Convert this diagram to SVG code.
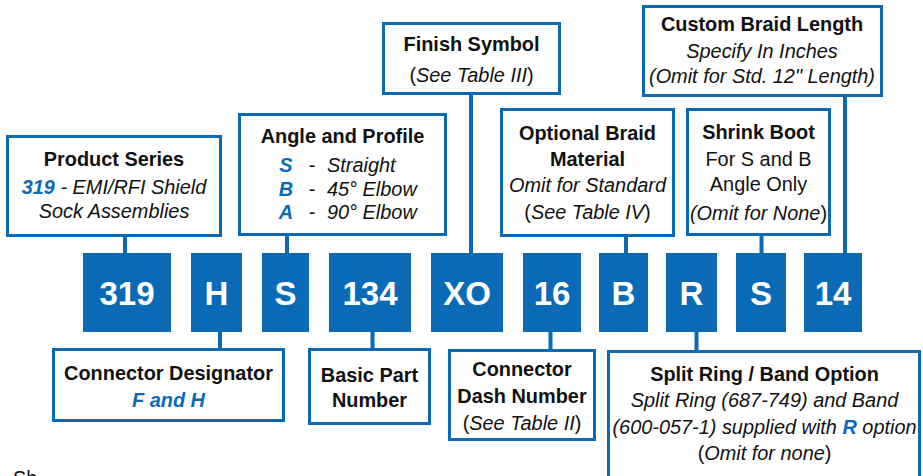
<svg xmlns="http://www.w3.org/2000/svg" width="923" height="476" viewBox="0 0 923 476">
<style>
text{font-family:"Liberation Sans",Arial,Helvetica,sans-serif;font-size:19.9px;fill:#111;}
.t{font-weight:bold;text-anchor:middle;}
.c{text-anchor:middle;}
.i{font-style:italic;}
.bl{fill:#0a6ab5;font-weight:bold;font-style:italic;}
.box{fill:#fff;stroke:#0a6ab5;stroke-width:3;}
.code{fill:#0a6ab5;}
.ct{fill:#fff;font-weight:bold;font-size:33px;text-anchor:middle;}
.ln{stroke:#0a6ab5;stroke-width:4;fill:none;}
</style>
<g id="connectors">
<line class="ln" x1="125" y1="236" x2="125" y2="254"/>
<line class="ln" x1="287" y1="235" x2="287" y2="254"/>
<line class="ln" x1="471" y1="94" x2="471" y2="254"/>
<line class="ln" x1="626" y1="236" x2="626" y2="254"/>
<line class="ln" x1="761.5" y1="235" x2="761.5" y2="254"/>
<line class="ln" x1="845" y1="96" x2="845" y2="254"/>
<line class="ln" x1="220" y1="331" x2="220" y2="350"/>
<line class="ln" x1="372.5" y1="331" x2="372.5" y2="350"/>
<line class="ln" x1="550.5" y1="331" x2="550.5" y2="351"/>
<line class="ln" x1="696.5" y1="331" x2="696.5" y2="352"/>
</g>
<g id="code-319"><rect class="code" x="83" y="253" width="88" height="79"/><text class="ct" x="127" y="305">319</text></g>
<g id="code-H"><rect class="code" x="191" y="253" width="51" height="79"/><text class="ct" x="216.5" y="305">H</text></g>
<g id="code-S1"><rect class="code" x="262" y="253" width="47" height="79"/><text class="ct" x="285.5" y="305">S</text></g>
<g id="code-134"><rect class="code" x="329" y="253" width="82" height="79"/><text class="ct" x="370" y="305">134</text></g>
<g id="code-XO"><rect class="code" x="431" y="253" width="72" height="79"/><text class="ct" x="467" y="305">XO</text></g>
<g id="code-16"><rect class="code" x="523" y="253" width="58" height="79"/><text class="ct" x="552" y="305">16</text></g>
<g id="code-B"><rect class="code" x="599" y="253" width="49" height="79"/><text class="ct" x="623.5" y="305">B</text></g>
<g id="code-R"><rect class="code" x="666" y="253" width="51" height="79"/><text class="ct" x="691.5" y="305">R</text></g>
<g id="code-S2"><rect class="code" x="736" y="253" width="50" height="79"/><text class="ct" x="761" y="305">S</text></g>
<g id="code-14"><rect class="code" x="804" y="253" width="58" height="79"/><text class="ct" x="833" y="305">14</text></g>

<g id="product-series">
<rect class="box" x="7.5" y="136.5" width="213" height="99"/>
<text class="t" x="114" y="166">Product Series</text>
<text class="c i" x="114" y="194"><tspan class="bl">319</tspan> - EMI/RFI Shield</text>
<text class="c i" x="114" y="218">Sock Assemblies</text>
</g>
<g id="angle-profile">
<rect class="box" x="239.5" y="114.5" width="206" height="120"/>
<text class="t" x="342.5" y="143">Angle and Profile</text>
<text class="bl c" x="286" y="172">S</text><text class="c" x="312" y="172">-</text><text class="i" x="327" y="172">Straight</text>
<text class="bl c" x="286" y="195.5">B</text><text class="c" x="312" y="195.5">-</text><text class="i" x="327" y="195.5">45° Elbow</text>
<text class="bl c" x="286" y="219">A</text><text class="c" x="312" y="219">-</text><text class="i" x="327" y="219">90° Elbow</text>
</g>
<g id="finish-symbol">
<rect class="box" x="383.5" y="23.5" width="176" height="70"/>
<text class="t" x="471.5" y="51">Finish Symbol</text>
<text class="c" x="471.5" y="82">(<tspan class="i">See Table III</tspan>)</text>
</g>
<g id="optional-braid">
<rect class="box" x="501.5" y="109.5" width="172" height="126"/>
<text class="t" x="587.5" y="139.5">Optional Braid</text>
<text class="t" x="587.5" y="165.5">Material</text>
<text class="c i" x="587.5" y="192">Omit for Standard</text>
<text class="c" x="587.5" y="218.5">(<tspan class="i">See Table IV</tspan>)</text>
</g>
<g id="custom-braid-length">
<rect class="box" x="643.5" y="6.5" width="238" height="89"/>
<text class="t" x="762" y="31">Custom Braid Length</text>
<text class="c i" x="762" y="57.5">Specify In Inches</text>
<text class="c i" x="762" y="83">(Omit for Std. 12" Length)</text>
</g>
<g id="shrink-boot">
<rect class="box" x="687.5" y="109.5" width="142" height="125"/>
<text class="t" x="758.5" y="138.5">Shrink Boot</text>
<text class="c" x="758.5" y="166">For S and B</text>
<text class="c" x="758.5" y="191">Angle Only</text>
<text class="c" x="758.5" y="220"><tspan class="i">(Omit for None</tspan>)</text>
</g>
<g id="connector-designator">
<rect class="box" x="53.5" y="349.5" width="230" height="71"/>
<text class="t" x="168.5" y="379.5">Connector Designator</text>
<text class="bl c" x="168.5" y="407">F and H</text>
</g>
<g id="basic-part-number">
<rect class="box" x="309.5" y="349.5" width="120" height="74"/>
<text class="t" x="369.5" y="382">Basic Part</text>
<text class="t" x="369.5" y="406.5">Number</text>
</g>
<g id="connector-dash-number">
<rect class="box" x="449.5" y="350.5" width="145" height="89"/>
<text class="t" x="522" y="375.5">Connector</text>
<text class="t" x="522" y="403">Dash Number</text>
<text class="c" x="522" y="429.5">(<tspan class="i">See Table II</tspan>)</text>
</g>
<g id="split-ring">
<rect class="box" x="608.5" y="351.5" width="311" height="130"/>
<text class="t" x="764.5" y="380.5">Split Ring / Band Option</text>
<text class="c i" x="764.5" y="407">Split Ring (687-749) and Band</text>
<text class="c i" x="764.5" y="433.5">(600-057-1) supplied with <tspan class="bl">R</tspan> option</text>
<text class="c" x="764.5" y="460">(<tspan class="i">Omit for none</tspan>)</text>
</g>
<text x="13" y="485">Sh</text>
</svg>
